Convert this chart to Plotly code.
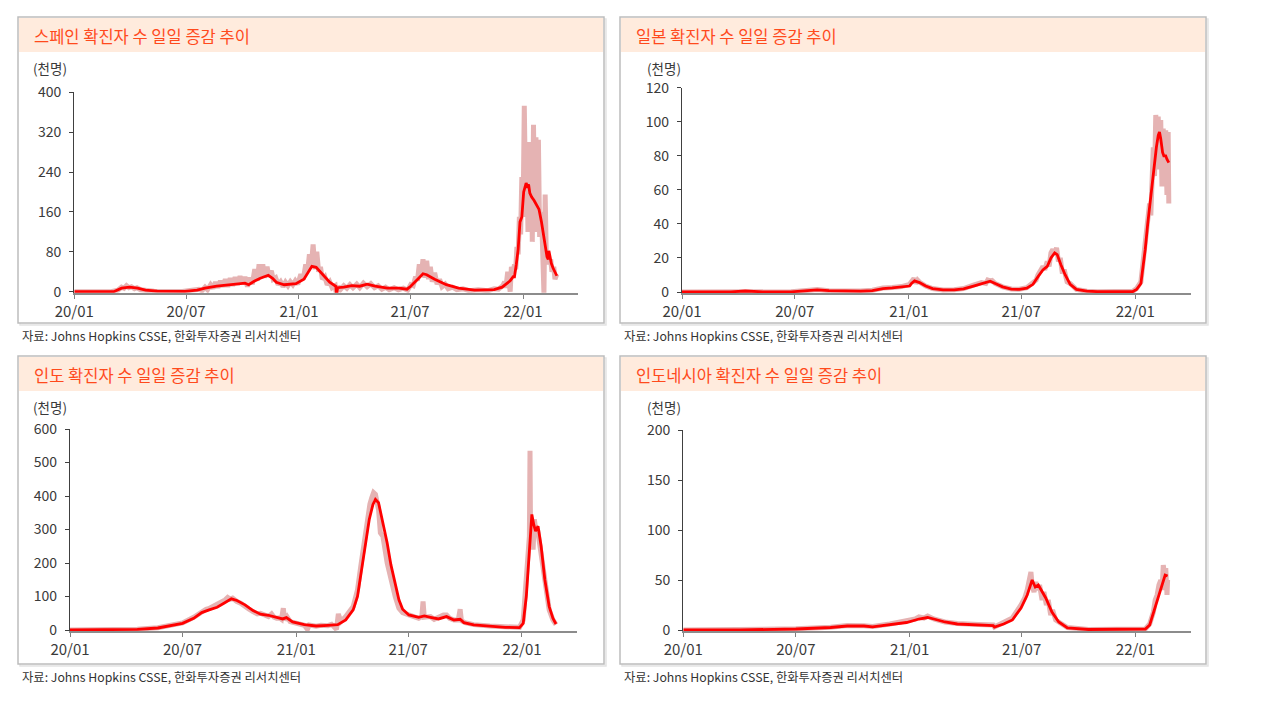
import plotly.graph_objects as go

W, H = 1274, 716
FONT = "Noto Sans CJK KR"

TITLES = ["스페인 확진자 수 일일 증감 추이", "일본 확진자 수 일일 증감 추이",
          "인도 확진자 수 일일 증감 추이", "인도네시아 확진자 수 일일 증감 추이"]
UNIT = "(천명)"
SOURCE = "자료: Johns Hopkins CSSE, 한화투자증권 리서치센터"
TICK_DATES = ["2020-01-01", "2020-07-01", "2021-01-01", "2021-07-01", "2022-01-01"]
TICK_LABELS = ["20/01", "20/07", "21/01", "21/07", "22/01"]
Y_TICKS = [[0, 80, 160, 240, 320, 400], [0, 20, 40, 60, 80, 100, 120],
           [0, 100, 200, 300, 400, 500, 600], [0, 50, 100, 150, 200]]

# daily new cases (thousand), light line
SPAIN_DAILY = [
    ("2020-01-01", 0), ("2020-03-01", 0), ("2020-03-12", 3), ("2020-03-18", 9), ("2020-03-22", 7),
    ("2020-03-26", 12), ("2020-03-30", 8), ("2020-04-03", 10), ("2020-04-08", 6), ("2020-04-12", 8),
    ("2020-04-18", 4), ("2020-04-25", 3), ("2020-05-10", 1), ("2020-06-25", 0.5), ("2020-07-15", 2),
    ("2020-07-22", 5), ("2020-07-27", 2), ("2020-08-01", 9), ("2020-08-05", 4), ("2020-08-10", 14),
    ("2020-08-14", 7), ("2020-08-18", 19), ("2020-08-22", 8), ("2020-08-26", 22), ("2020-08-30", 10),
    ("2020-09-03", 25), ("2020-09-07", 10), ("2020-09-11", 27), ("2020-09-15", 12), ("2020-09-19", 29),
    ("2020-09-23", 14), ("2020-09-27", 31), ("2020-10-01", 15), ("2020-10-05", 30), ("2020-10-09", 10),
    ("2020-10-13", 28), ("2020-10-17", 15), ("2020-10-21", 45), ("2020-10-25", 22), ("2020-10-28", 55),
    ("2020-10-31", 28), ("2020-11-03", 55), ("2020-11-06", 28), ("2020-11-10", 50), ("2020-11-13", 30),
    ("2020-11-17", 42), ("2020-11-20", 25), ("2020-11-24", 28), ("2020-11-28", 14), ("2020-12-02", 20),
    ("2020-12-06", 10), ("2020-12-10", 19), ("2020-12-14", 12), ("2020-12-18", 20), ("2020-12-22", 14),
    ("2020-12-26", 22), ("2020-12-30", 15), ("2021-01-04", 35), ("2021-01-08", 25), ("2021-01-12", 55),
    ("2021-01-15", 40), ("2021-01-18", 75), ("2021-01-21", 50), ("2021-01-24", 95), ("2021-01-27", 45),
    ("2021-01-30", 80), ("2021-02-02", 40), ("2021-02-05", 50), ("2021-02-08", 25), ("2021-02-12", 30),
    ("2021-02-16", 14), ("2021-02-20", 20), ("2021-02-24", 8), ("2021-03-01", 12), ("2021-03-03", -6),
    ("2021-03-06", 11), ("2021-03-10", 5), ("2021-03-15", 12), ("2021-03-20", 7), ("2021-03-25", 14),
    ("2021-03-30", 8), ("2021-04-05", 15), ("2021-04-10", 8), ("2021-04-16", 17), ("2021-04-22", 10),
    ("2021-04-28", 16), ("2021-05-04", 8), ("2021-05-10", 12), ("2021-05-16", 5), ("2021-05-22", 9),
    ("2021-05-28", 4), ("2021-06-05", 8), ("2021-06-12", 4), ("2021-06-20", 7), ("2021-06-27", 3),
    ("2021-07-02", 14), ("2021-07-06", 12), ("2021-07-10", 30), ("2021-07-13", 22), ("2021-07-16", 55),
    ("2021-07-19", 30), ("2021-07-22", 65), ("2021-07-25", 28), ("2021-07-28", 62), ("2021-07-31", 25),
    ("2021-08-03", 50), ("2021-08-06", 20), ("2021-08-10", 38), ("2021-08-14", 15), ("2021-08-18", 25),
    ("2021-08-22", 10), ("2021-08-27", 15), ("2021-09-01", 6), ("2021-09-08", 9), ("2021-09-15", 4),
    ("2021-09-25", 6), ("2021-10-05", 2), ("2021-10-20", 4), ("2021-11-05", 2), ("2021-11-15", 6),
    ("2021-11-22", 5), ("2021-11-29", 12), ("2021-12-02", 20), ("2021-12-04", 8), ("2021-12-07", 40),
    ("2021-12-09", 25), ("2021-12-11", 0), ("2021-12-13", 50), ("2021-12-16", 35), ("2021-12-18", 55),
    ("2021-12-20", 45), ("2021-12-22", 90), ("2021-12-24", 75), ("2021-12-26", 150), ("2021-12-28", 115),
    ("2021-12-30", 230), ("2022-01-01", 150), ("2022-01-03", 373), ("2022-01-05", 200), ("2022-01-07", 290),
    ("2022-01-09", 120), ("2022-01-11", 300), ("2022-01-13", 140), ("2022-01-15", 250), ("2022-01-16", 100),
    ("2022-01-18", 335), ("2022-01-20", 150), ("2022-01-22", 310), ("2022-01-24", 120), ("2022-01-26", 305),
    ("2022-01-28", 110), ("2022-01-31", 160), ("2022-02-02", 90), ("2022-02-04", -3), ("2022-02-06", 195),
    ("2022-02-08", 60), ("2022-02-10", 80), ("2022-02-12", 55), ("2022-02-15", 65), ("2022-02-17", 40),
    ("2022-02-20", 50), ("2022-02-22", 25), ("2022-02-25", 35),
]
# 7-day average (thousand), red line
SPAIN_AVG = [
    ("2020-01-01", 0), ("2020-03-05", 0), ("2020-03-18", 7), ("2020-03-31", 9), ("2020-04-13", 7),
    ("2020-04-26", 3), ("2020-05-15", 1), ("2020-06-29", 0.5), ("2020-07-19", 3), ("2020-08-01", 7),
    ("2020-08-20", 11), ("2020-09-09", 14), ("2020-09-28", 17), ("2020-10-05", 17), ("2020-10-11", 14),
    ("2020-10-20", 21), ("2020-10-30", 27), ("2020-11-12", 33), ("2020-11-19", 27), ("2020-11-25", 19),
    ("2020-12-08", 14), ("2020-12-27", 16), ("2021-01-09", 25), ("2021-01-22", 51), ("2021-01-29", 49),
    ("2021-02-07", 36), ("2021-02-20", 19), ("2021-03-02", 11), ("2021-03-03", -6), ("2021-03-05", 8),
    ("2021-03-15", 9), ("2021-03-28", 12), ("2021-04-10", 11), ("2021-04-22", 15), ("2021-05-05", 11),
    ("2021-05-25", 7), ("2021-06-13", 7), ("2021-06-26", 5), ("2021-07-02", 11), ("2021-07-15", 27),
    ("2021-07-22", 36), ("2021-07-28", 34), ("2021-08-10", 25), ("2021-08-29", 14), ("2021-09-18", 7),
    ("2021-10-14", 3), ("2021-11-15", 4), ("2021-11-28", 9), ("2021-12-07", 18), ("2021-12-11", 22),
    ("2021-12-16", 30), ("2021-12-18", 30), ("2021-12-21", 55), ("2021-12-24", 85), ("2021-12-27", 140),
    ("2021-12-30", 150), ("2022-01-02", 200), ("2022-01-06", 218), ("2022-01-08", 212), ("2022-01-10", 215),
    ("2022-01-12", 198), ("2022-01-15", 190), ("2022-01-19", 183), ("2022-01-23", 175), ("2022-01-27", 165),
    ("2022-01-31", 140), ("2022-02-03", 115), ("2022-02-06", 85), ("2022-02-09", 70), ("2022-02-11", 65),
    ("2022-02-12", 82), ("2022-02-14", 70), ("2022-02-16", 57), ("2022-02-19", 47), ("2022-02-22", 40),
    ("2022-02-25", 32),
]

JAPAN_DAILY = [
    ("2020-01-01", 0), ("2020-03-20", 0.1), ("2020-04-12", 0.7), ("2020-05-10", 0.1), ("2020-06-25", 0.1),
    ("2020-07-20", 0.9), ("2020-08-06", 1.5), ("2020-08-25", 0.8), ("2020-09-15", 0.5), ("2020-10-15", 0.6),
    ("2020-11-03", 1), ("2020-11-20", 2.3), ("2020-12-05", 2.6), ("2020-12-20", 3.2), ("2021-01-02", 4.5),
    ("2021-01-06", 7), ("2021-01-09", 8), ("2021-01-12", 5), ("2021-01-15", 7), ("2021-01-19", 5.5),
    ("2021-01-28", 3.5), ("2021-02-08", 2), ("2021-02-25", 1.2), ("2021-03-15", 1.3), ("2021-03-30", 2),
    ("2021-04-15", 4), ("2021-04-28", 5.5), ("2021-05-05", 5), ("2021-05-08", 7), ("2021-05-12", 6.5),
    ("2021-05-15", 6.8), ("2021-05-20", 5), ("2021-06-01", 3), ("2021-06-15", 1.8), ("2021-06-28", 1.6),
    ("2021-07-10", 2.5), ("2021-07-20", 5), ("2021-07-25", 7), ("2021-07-28", 10), ("2021-08-01", 12),
    ("2021-08-05", 15), ("2021-08-08", 13), ("2021-08-12", 18), ("2021-08-15", 15), ("2021-08-18", 23),
    ("2021-08-21", 25), ("2021-08-24", 22), ("2021-08-27", 26), ("2021-08-30", 18), ("2021-09-02", 20),
    ("2021-09-05", 12), ("2021-09-09", 12), ("2021-09-13", 6), ("2021-09-18", 5), ("2021-09-28", 1.5),
    ("2021-10-15", 0.5), ("2021-11-01", 0.2), ("2021-12-28", 0.4), ("2022-01-03", 2), ("2022-01-10", 6),
    ("2022-01-14", 18), ("2022-01-17", 28), ("2022-01-21", 45), ("2022-01-24", 52), ("2022-01-26", 45),
    ("2022-01-28", 70), ("2022-01-30", 85), ("2022-02-01", 68), ("2022-02-03", 104), ("2022-02-05", 80),
    ("2022-02-07", 103), ("2022-02-09", 72), ("2022-02-11", 101), ("2022-02-13", 62), ("2022-02-15", 96),
    ("2022-02-17", 70), ("2022-02-19", 95), ("2022-02-21", 57), ("2022-02-23", 94), ("2022-02-24", 52),
]
JAPAN_AVG = [
    ("2020-01-01", 0), ("2020-03-20", 0.1), ("2020-04-12", 0.6), ("2020-05-10", 0.1), ("2020-06-25", 0.1),
    ("2020-07-20", 0.8), ("2020-08-06", 1.3), ("2020-08-25", 0.8), ("2020-09-15", 0.5), ("2020-10-15", 0.5),
    ("2020-11-03", 0.8), ("2020-11-20", 2.0), ("2020-12-05", 2.4), ("2020-12-20", 2.8), ("2021-01-02", 3.5),
    ("2021-01-05", 5.0), ("2021-01-10", 6.5), ("2021-01-18", 5.5), ("2021-01-28", 3.5), ("2021-02-08", 2.0),
    ("2021-02-25", 1.2), ("2021-03-15", 1.2), ("2021-03-30", 1.8), ("2021-04-15", 3.5), ("2021-04-28", 4.8),
    ("2021-05-05", 5.2), ("2021-05-12", 6.3), ("2021-05-20", 5.0), ("2021-06-01", 3), ("2021-06-15", 1.7),
    ("2021-06-28", 1.5), ("2021-07-10", 2.2), ("2021-07-20", 4.5), ("2021-07-28", 9), ("2021-08-05", 13),
    ("2021-08-12", 15), ("2021-08-18", 20), ("2021-08-24", 23), ("2021-08-28", 22), ("2021-09-03", 16),
    ("2021-09-10", 10), ("2021-09-18", 4.5), ("2021-09-28", 1.5), ("2021-10-15", 0.5), ("2021-11-01", 0.2),
    ("2021-12-28", 0.3), ("2022-01-03", 1.5), ("2022-01-10", 5), ("2022-01-14", 15), ("2022-01-17", 25),
    ("2022-01-21", 40), ("2022-01-24", 50), ("2022-01-28", 62), ("2022-01-31", 72), ("2022-02-04", 85),
    ("2022-02-07", 92), ("2022-02-09", 94), ("2022-02-11", 90), ("2022-02-14", 82), ("2022-02-16", 80),
    ("2022-02-19", 80), ("2022-02-21", 78), ("2022-02-24", 76),
]

INDIA_DAILY = [
    ("2020-01-01", 0), ("2020-03-01", 0), ("2020-04-19", 2), ("2020-05-22", 7), ("2020-06-11", 13),
    ("2020-07-01", 21), ("2020-07-19", 38), ("2020-07-26", 48), ("2020-08-01", 55), ("2020-08-08", 62),
    ("2020-08-13", 64), ("2020-08-20", 70), ("2020-08-26", 75), ("2020-09-02", 85), ("2020-09-08", 90),
    ("2020-09-12", 97), ("2020-09-16", 92), ("2020-09-20", 95), ("2020-09-24", 86), ("2020-09-27", 85),
    ("2020-10-03", 80), ("2020-10-10", 73), ("2020-10-16", 63), ("2020-10-23", 55), ("2020-10-30", 48),
    ("2020-11-04", 50), ("2020-11-10", 45), ("2020-11-17", 40), ("2020-11-22", 48), ("2020-11-26", 38),
    ("2020-11-30", 35), ("2020-12-05", 36), ("2020-12-08", 32), ("2020-12-11", 65), ("2020-12-13", 30),
    ("2020-12-17", 40), ("2020-12-22", 25), ("2020-12-28", 22), ("2021-01-05", 18), ("2021-01-14", 14),
    ("2021-01-19", 2), ("2021-01-22", 15), ("2021-02-02", 11), ("2021-02-10", 14), ("2021-02-21", 13),
    ("2021-02-27", 17), ("2021-03-07", 2), ("2021-03-10", 48), ("2021-03-14", 25), ("2021-03-22", 40),
    ("2021-04-03", 70), ("2021-04-10", 120), ("2021-04-16", 200), ("2021-04-23", 300), ("2021-04-27", 340),
    ("2021-04-30", 375), ("2021-05-03", 395), ("2021-05-06", 410), ("2021-05-09", 405), ("2021-05-11", 380),
    ("2021-05-14", 360), ("2021-05-17", 290), ("2021-05-21", 280), ("2021-05-28", 200), ("2021-06-03", 150),
    ("2021-06-10", 100), ("2021-06-16", 65), ("2021-06-22", 52), ("2021-07-02", 45), ("2021-07-10", 40),
    ("2021-07-18", 35), ("2021-07-23", 40), ("2021-07-25", 85), ("2021-07-27", 38), ("2021-08-06", 40),
    ("2021-08-12", 32), ("2021-08-19", 38), ("2021-08-27", 45), ("2021-09-01", 45), ("2021-09-06", 35),
    ("2021-09-13", 30), ("2021-09-20", 30), ("2021-09-23", 62), ("2021-09-25", 28), ("2021-10-01", 22),
    ("2021-10-15", 16), ("2021-11-10", 12), ("2021-12-05", 8), ("2021-12-28", 8), ("2022-01-03", 30),
    ("2022-01-08", 140), ("2022-01-11", 230), ("2022-01-13", 280), ("2022-01-14", 535), ("2022-01-15", 250),
    ("2022-01-17", 330), ("2022-01-19", 240), ("2022-01-21", 330), ("2022-01-24", 290), ("2022-01-27", 290),
    ("2022-02-01", 230), ("2022-02-07", 140), ("2022-02-14", 60), ("2022-02-20", 30), ("2022-02-25", 16),
]
INDIA_AVG = [
    ("2020-01-01", 0), ("2020-03-01", 0), ("2020-04-19", 2), ("2020-05-22", 6), ("2020-06-11", 12),
    ("2020-07-01", 20), ("2020-07-19", 35), ("2020-08-01", 52), ("2020-08-13", 60), ("2020-08-26", 68),
    ("2020-09-08", 82), ("2020-09-18", 93), ("2020-09-27", 88), ("2020-10-10", 75), ("2020-10-23", 58),
    ("2020-11-04", 47), ("2020-11-17", 44), ("2020-11-30", 38), ("2020-12-10", 33), ("2020-12-16", 37),
    ("2020-12-26", 24), ("2021-01-14", 16), ("2021-02-02", 12), ("2021-02-21", 14), ("2021-03-09", 16),
    ("2021-03-22", 30), ("2021-04-03", 60), ("2021-04-10", 100), ("2021-04-16", 170), ("2021-04-23", 260),
    ("2021-04-29", 330), ("2021-05-05", 375), ("2021-05-09", 390), ("2021-05-14", 380), ("2021-05-21", 320),
    ("2021-05-28", 260), ("2021-06-03", 195), ("2021-06-10", 140), ("2021-06-16", 90), ("2021-06-22", 62),
    ("2021-07-02", 45), ("2021-07-18", 38), ("2021-07-27", 42), ("2021-08-06", 38), ("2021-08-19", 33),
    ("2021-09-01", 40), ("2021-09-13", 30), ("2021-09-23", 32), ("2021-09-29", 22), ("2021-10-15", 15),
    ("2021-11-10", 11), ("2021-12-05", 8), ("2021-12-28", 7), ("2022-01-03", 20), ("2022-01-08", 100),
    ("2022-01-13", 250), ("2022-01-17", 345), ("2022-01-20", 315), ("2022-01-23", 295), ("2022-01-27", 310),
    ("2022-02-01", 250), ("2022-02-07", 150), ("2022-02-14", 70), ("2022-02-20", 35), ("2022-02-25", 18),
]

INDONESIA_DAILY = [
    ("2020-01-01", 0), ("2020-04-01", 0.1), ("2020-07-01", 1.2), ("2020-08-26", 2.8), ("2020-09-22", 4.5),
    ("2020-10-19", 4.2), ("2020-11-02", 3.5), ("2020-11-30", 6), ("2020-12-27", 8.5), ("2021-01-10", 11),
    ("2021-01-16", 13), ("2021-01-24", 12), ("2021-01-30", 14), ("2021-02-05", 12), ("2021-02-09", 11),
    ("2021-02-27", 8), ("2021-03-19", 6.5), ("2021-04-22", 5.5), ("2021-05-16", 5), ("2021-05-18", 3),
    ("2021-06-02", 7), ("2021-06-16", 12), ("2021-06-30", 25), ("2021-07-06", 32), ("2021-07-10", 40),
    ("2021-07-14", 55), ("2021-07-16", 58), ("2021-07-18", 45), ("2021-07-21", 38), ("2021-07-24", 48),
    ("2021-07-27", 40), ("2021-07-30", 45), ("2021-08-03", 30), ("2021-08-06", 38), ("2021-08-10", 25),
    ("2021-08-13", 30), ("2021-08-17", 15), ("2021-08-20", 20), ("2021-08-25", 10), ("2021-08-30", 8),
    ("2021-09-13", 2.5), ("2021-10-17", 0.6), ("2022-01-17", 1), ("2022-01-24", 6), ("2022-01-30", 18),
    ("2022-02-02", 30), ("2022-02-05", 35), ("2022-02-08", 45), ("2022-02-11", 50), ("2022-02-13", 40),
    ("2022-02-15", 65), ("2022-02-17", 55), ("2022-02-19", 62), ("2022-02-21", 35), ("2022-02-22", 50),
]
INDONESIA_AVG = [
    ("2020-01-01", 0), ("2020-04-01", 0.1), ("2020-07-01", 1), ("2020-08-26", 2.5), ("2020-09-22", 4),
    ("2020-10-19", 4), ("2020-11-02", 3.2), ("2020-11-30", 5.5), ("2020-12-27", 7.5), ("2021-01-16", 11),
    ("2021-01-30", 12.5), ("2021-02-09", 11), ("2021-02-27", 8), ("2021-03-19", 6), ("2021-04-22", 5),
    ("2021-05-16", 4.5), ("2021-05-18", 3), ("2021-06-02", 6), ("2021-06-16", 10), ("2021-06-30", 22),
    ("2021-07-10", 35), ("2021-07-18", 50), ("2021-07-23", 43), ("2021-07-28", 45), ("2021-08-09", 32),
    ("2021-08-19", 18), ("2021-08-30", 8), ("2021-09-13", 2), ("2021-10-17", 0.5), ("2022-01-17", 1),
    ("2022-01-24", 5), ("2022-02-03", 25), ("2022-02-10", 40), ("2022-02-18", 55), ("2022-02-22", 54),
]

DAILY = [SPAIN_DAILY, JAPAN_DAILY, INDIA_DAILY, INDONESIA_DAILY]
AVG = [SPAIN_AVG, JAPAN_AVG, INDIA_AVG, INDONESIA_AVG]

# pixel layout of each panel on the page: box (l, t, r, b), plot area (l, t, r, b)
BOXES = [(18, 17, 604, 323), (620, 17, 1206, 323), (18, 356, 604, 664), (620, 356, 1206, 664)]
PLOTS = [(74.3, 92.3, 577.7, 291.7), (682, 87.7, 1190.5, 292),
         (70, 429, 577, 630), (683.3, 430, 1190.5, 630)]
PAGE_OFFSET = 8  # the html body margin shifts the figure by this much


def px(x):
    return (x - PAGE_OFFSET) / W


def py(y):
    return 1 - (y - PAGE_OFFSET) / H


fig = go.Figure()
shapes, annotations = [], []

for i in range(4):
    n = "" if i == 0 else str(i + 1)
    bl, bt, br, bb = BOXES[i]
    pl, pt, pr, pb = PLOTS[i]
    ymax = Y_TICKS[i][-1]
    ypad = ymax / (pb - pt)  # one pixel below zero so the line at 0 is not cut

    d_dates, d_vals = zip(*DAILY[i])
    a_dates, a_vals = zip(*AVG[i])
    fig.add_trace(go.Scatter(x=d_dates, y=d_vals, mode="lines", xaxis="x" + n, yaxis="y" + n,
                             line=dict(color="#E5B3B3", width=5), showlegend=False, hoverinfo="skip"))
    fig.add_trace(go.Scatter(x=a_dates, y=a_vals, mode="lines", xaxis="x" + n, yaxis="y" + n,
                             line=dict(color="#FF0000", width=2.8), showlegend=False))

    fig.layout["xaxis" + n] = dict(
        domain=[px(pl), px(pr)], anchor="y" + n, type="date", automargin=False,
        range=["2020-01-01", "2022-03-31"],
        tickvals=TICK_DATES, ticktext=TICK_LABELS,
        ticks="outside", ticklen=4, tickcolor="#808080", tickwidth=1.2,
        showline=True, linecolor="#8C8C8C", linewidth=1.6, showgrid=False, zeroline=False,
        tickfont=dict(family=FONT, size=15, color="#3A3A3A"))
    fig.layout["yaxis" + n] = dict(
        domain=[py(pb + 1), py(pt)], anchor="x" + n, automargin=False,
        range=[-ypad, ymax], tickvals=Y_TICKS[i],
        ticks="outside", ticklen=4, tickcolor="#404040", tickwidth=1,
        showline=True, linecolor="#404040", linewidth=1.2, showgrid=False, zeroline=False,
        ticklabelstandoff=5,
        tickfont=dict(family=FONT, size=14, color="#3A3A3A"))

    # box with a faint shadow, title bar
    shapes.append(dict(type="rect", xref="paper", yref="paper", layer="below",
                       x0=px(bl + 2), x1=px(br + 2), y0=py(bb + 2), y1=py(bt + 2),
                       line=dict(color="#E4E4E4", width=1.5), fillcolor="#F4F4F4"))
    shapes.append(dict(type="rect", xref="paper", yref="paper", layer="below",
                       x0=px(bl), x1=px(br), y0=py(bb), y1=py(bt),
                       line=dict(color="#BDBDBD", width=1.5), fillcolor="white"))
    shapes.append(dict(type="rect", xref="paper", yref="paper", layer="below",
                       x0=px(bl + 1), x1=px(br - 1), y0=py(bt + 35), y1=py(bt + 1),
                       line=dict(width=0), fillcolor="#FFEBDD"))

    annotations.append(dict(text=TITLES[i], xref="paper", yref="paper", x=px(bl + 14), y=py(bt + 18.5),
                            xanchor="left", yanchor="middle", showarrow=False,
                            font=dict(family=FONT, size=16.5, color="#FF4A1C")))
    annotations.append(dict(text=UNIT, xref="paper", yref="paper", x=px(bl + 13 if i % 2 == 0 else bl + 25),
                            y=py(bt + 51), xanchor="left", yanchor="middle", showarrow=False,
                            font=dict(family=FONT, size=13.5, color="#3A3A3A")))
    annotations.append(dict(text=SOURCE, xref="paper", yref="paper", x=px(bl + 2), y=py(bb + 12.5),
                            xanchor="left", yanchor="middle", showarrow=False,
                            font=dict(family=FONT, size=12.3, color="#333333")))

# faint vertical rule at the right edge of the page
shapes.append(dict(type="line", xref="paper", yref="paper", x0=px(1269.5), x1=px(1269.5),
                   y0=py(712), y1=py(0), line=dict(color="#F8D9C4", width=2)))

fig.update_layout(width=W, height=H, margin=dict(l=0, r=0, t=0, b=0, autoexpand=False),
                  paper_bgcolor="white", plot_bgcolor="rgba(0,0,0,0)",
                  shapes=shapes, annotations=annotations, font=dict(family=FONT))

fig.write_html("out.html")
